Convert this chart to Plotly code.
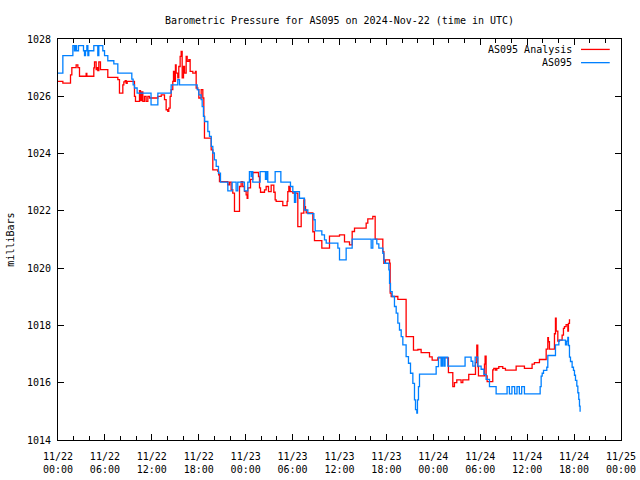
import plotly.graph_objects as go
import pandas as pd

start = pd.Timestamp("2024-11-22 00:00")

# AS095 Analysis (red) : hours since 2024-11-22 00:00 UTC, pressure in mb
analysis_hours = [0, 0.62, 1.6, 1.77, 2.32, 2.54, 2.75, 3.6, 3.69, 4.58, 4.67, 4.88, 5.01, 5.09, 5.22, 5.43,
                  6.37, 7.65, 7.86, 8.29, 8.42, 8.59, 8.72, 8.85, 9.78, 9.91, 10.42, 10.55, 10.72, 10.85,
                  11.06, 11.27, 11.49, 11.7, 12.77, 13.2, 13.62, 13.83, 14.04, 14.17, 14.34, 14.47, 14.68,
                  14.77, 14.9, 15.02, 15.11, 15.32, 15.45, 15.62, 15.75, 15.88, 16.05, 16.18, 16.39, 16.52,
                  16.73, 16.9, 17.24, 17.58, 17.67, 17.88, 18.01, 18.31, 18.52, 18.65, 18.73, 19.59, 19.8,
                  20.44, 20.55, 20.65, 21.72, 21.93, 22.14, 22.35, 22.57, 23.21, 23.42, 23.63, 23.85, 24.06,
                  24.19, 24.28, 24.62, 24.91, 25.64, 25.77, 25.9, 26.41, 26.62, 26.92, 27.26, 27.6, 27.77,
                  27.9, 28.75, 29.3, 29.39, 29.52, 29.69, 30.03, 30.67, 31.1, 31.44, 31.55, 31.65, 31.74,
                  32.59, 32.8, 33.74, 34.72, 36.0, 36.64, 37.28, 37.62, 37.92, 39.41, 39.62, 40.26, 40.56,
                  41.54, 41.67, 41.88, 42.4, 42.48, 42.61, 43.46, 44.52, 45.46, 46.02, 46.44, 47.51, 47.85,
                  48.57, 49.93, 50.49, 50.7, 51.0, 51.55, 51.77, 52.53, 53.39, 53.56, 53.68, 53.77, 54.54,
                  54.62, 54.75, 54.88, 55.6, 55.73, 55.95, 56.12, 56.37, 56.88, 57.22, 58.59, 59.65, 60.63,
                  60.93, 61.57, 62.43, 62.64, 62.72, 62.85, 63.49, 63.62, 63.71, 63.92, 64.13, 64.47, 64.64,
                  64.77, 64.98, 65.2, 65.28, 65.41, 65.5]
analysis_mb = [1026.52, 1026.46, 1026.75, 1027.0, 1027.1, 1027.0, 1026.7, 1026.8, 1026.7, 1026.99, 1027.2,
               1026.93, 1027.0, 1026.9, 1027.2, 1026.93, 1026.66, 1026.58, 1026.11, 1026.4, 1026.5, 1026.55,
               1026.45, 1026.52, 1026.0, 1025.82, 1026.2, 1025.85, 1026.15, 1025.82, 1026.0, 1025.82, 1026.0,
               1025.94, 1026.0, 1026.05, 1025.88, 1025.53, 1025.47, 1025.59, 1026.0, 1026.23, 1026.52,
               1026.87, 1026.52, 1027.1, 1026.81, 1026.64, 1027.04, 1027.39, 1027.57, 1026.64, 1027.04,
               1026.81, 1027.39, 1027.22, 1027.28, 1026.87, 1026.81, 1026.87, 1026.29, 1026.23, 1025.94,
               1026.23, 1025.94, 1025.3, 1024.54, 1024.13, 1023.43, 1023.38, 1023.26, 1023.02, 1022.91,
               1023.0, 1022.74, 1022.62, 1021.98, 1022.85, 1023.02, 1022.85, 1022.68, 1022.56, 1022.44,
               1022.8, 1023.1, 1023.34, 1023.2, 1022.8, 1022.65, 1022.73, 1022.85, 1022.67, 1022.9, 1022.65,
               1022.38, 1022.33, 1022.18, 1022.33, 1022.67, 1022.85, 1022.67, 1022.62, 1021.45, 1021.92,
               1022.38, 1022.15, 1022.03, 1021.93, 1021.27, 1020.96, 1020.7, 1021.12, 1021.16, 1020.92,
               1020.81, 1021.28, 1021.4, 1021.57, 1021.72, 1021.81, 1021.01, 1020.58, 1020.17, 1020.29,
               1020.17, 1019.13, 1019.01, 1018.91, 1017.61, 1017.14, 1017.16, 1017.05, 1016.9, 1016.79,
               1016.87, 1016.35, 1015.86, 1016.0, 1016.1, 1016.0, 1016.1, 1016.29, 1016.7, 1017.31, 1016.56,
               1016.24, 1016.65, 1016.93, 1016.24, 1016.04, 1016.45, 1016.5, 1016.44, 1016.5, 1016.56,
               1016.5, 1016.44, 1016.58, 1016.5, 1016.65, 1016.7, 1016.81, 1017.17, 1017.57, 1017.43,
               1017.17, 1017.71, 1018.25, 1017.8, 1017.45, 1017.49, 1017.66, 1017.9, 1017.96, 1018.03,
               1017.8, 1018.07, 1018.19, 1018.19]

# AS095 observations (blue)
obs_hours = [0, 0.62, 1.9, 2.1, 2.24, 2.37, 2.62, 3.26, 3.39, 3.52, 3.69, 3.82, 3.94, 4.58, 5.09, 5.22,
             5.73, 5.95, 6.37, 7.14, 7.65, 9.44, 9.61, 9.78, 10.12, 11.9, 12.77, 14.47, 15.32, 15.54, 17.8,
             18.0, 18.3, 18.44, 18.6, 18.75, 19.16, 19.37, 19.6, 19.8, 20.0, 20.23, 20.52, 20.78, 21.72,
             22.27, 22.78, 22.99, 23.84, 24.27, 24.48, 24.7, 24.8, 24.91, 25.85, 26.53, 26.7, 26.83, 27.77,
             28.5, 29.73, 30.03, 30.24, 30.4, 30.88, 31.52, 31.95, 32.72, 32.89, 33.74, 34.08, 34.3, 35.79,
             36.0, 36.85, 37.62, 40.05, 40.26, 40.77, 41.03, 41.54, 41.67, 41.76, 42.31, 42.4, 42.52, 42.74,
             43.03, 43.25, 43.46, 43.67, 43.89, 44.1, 44.52, 44.82, 45.08, 45.38, 45.59, 45.72, 45.89,
             45.97, 46.1, 46.23, 48.36, 48.66, 48.99, 49.15, 49.34, 49.5, 49.85, 52.06, 52.83, 53.05, 53.35,
             53.69, 54.11, 54.46, 54.75, 55.18, 56.03, 57.43, 57.73, 58.05, 58.4, 58.7, 59.0, 59.3,
             59.65, 61.66, 61.79, 61.92, 62.09, 62.51, 62.64, 63.62, 64.05, 64.9,
             65.07, 65.2, 65.28, 65.41, 65.54, 65.75, 65.92, 66.05, 66.18, 66.35, 66.48, 66.6, 66.69, 66.77]
obs_mb = [1026.81, 1027.42, 1027.77, 1027.59, 1027.77, 1027.59, 1027.77, 1027.59, 1027.42, 1027.59,
          1027.77, 1027.42, 1027.59, 1027.77, 1027.42, 1027.77, 1027.59, 1027.42, 1027.24, 1027.13,
          1026.81, 1026.6, 1026.4, 1026.29, 1026.11, 1025.7, 1026.11, 1026.4, 1026.58, 1026.4, 1026.23,
          1026.05, 1025.88, 1025.64, 1025.3, 1025.12, 1024.77, 1024.6, 1024.25, 1024.02, 1023.78,
          1023.55, 1023.32, 1023.0, 1022.7, 1023.0, 1022.7, 1023.0, 1022.7, 1023.0, 1023.37, 1023.2,
          1023.37, 1023.0, 1023.37, 1023.1, 1023.37, 1023.0, 1023.37, 1023.0, 1022.85, 1022.67, 1022.3,
          1022.67, 1022.44, 1022.03, 1021.9, 1021.69, 1021.3, 1021.16, 1020.99, 1020.87, 1020.7, 1020.29,
          1020.7, 1021.01, 1020.7, 1021.01, 1020.85, 1020.7, 1020.52, 1020.29, 1020.17, 1019.94, 1019.47,
          1019.18, 1019.01, 1018.66, 1018.43, 1018.08, 1017.84, 1017.61, 1017.32, 1016.91, 1016.68,
          1016.33, 1015.98, 1015.4, 1015.06, 1014.94, 1015.4, 1015.86, 1016.3, 1016.56, 1016.89, 1016.58,
          1016.89, 1016.58, 1016.89, 1016.58, 1016.89, 1016.75, 1016.58, 1016.89, 1016.58, 1016.47,
          1016.29, 1016.12, 1015.86, 1015.61, 1015.86, 1015.61, 1015.86, 1015.61, 1015.86, 1015.61,
          1015.86, 1015.61, 1015.86, 1016.23, 1016.33, 1016.43, 1016.54, 1016.95,
          1017.32, 1017.49, 1017.32, 1017.45, 1017.58, 1017.3, 1016.89, 1016.74, 1016.54, 1016.43,
          1016.26, 1016.08, 1015.88, 1015.65, 1015.42, 1015.18, 1014.99, 1014.87]

tick_labels = ["11/22<br>00:00", "11/22<br>06:00", "11/22<br>12:00", "11/22<br>18:00",
               "11/23<br>00:00", "11/23<br>06:00", "11/23<br>12:00", "11/23<br>18:00",
               "11/24<br>00:00", "11/24<br>06:00", "11/24<br>12:00", "11/24<br>18:00",
               "11/25<br>00:00"]
y_ticks = [1014, 1016, 1018, 1020, 1022, 1024, 1026, 1028]

series_names = ["AS095 Analysis", "AS095"]
series_colors = ["#ff0000", "#0080ff"]

FONT = "DejaVu Sans Mono"

ax = start + pd.to_timedelta(analysis_hours, unit="h")
ox = start + pd.to_timedelta(obs_hours, unit="h")
tickvals = pd.date_range(start, periods=len(tick_labels), freq="6h")

fig = go.Figure()
fig.add_trace(go.Scatter(x=ax, y=analysis_mb, mode="lines", line_shape="hv",
                         line=dict(color=series_colors[0], width=1.3), name=series_names[0],
                         showlegend=False))
fig.add_trace(go.Scatter(x=ox, y=obs_mb, mode="lines", line_shape="hv",
                         line=dict(color=series_colors[1], width=1.3), name=series_names[1],
                         showlegend=False))

# gnuplot-style key: text then line sample, top right
key_y = [0.974, 0.941]
for name, color, yy in zip(series_names, series_colors, key_y):
    fig.add_annotation(x=0.916, y=yy, xref="paper", yref="paper", text=name, showarrow=False,
                       xanchor="right", yanchor="middle", font=dict(family=FONT, size=10, color="black"))
    fig.add_shape(type="line", xref="paper", yref="paper", x0=0.929, x1=0.98, y0=yy, y1=yy,
                  line=dict(color=color, width=1.3))

fig.add_annotation(x=-0.085, y=0.5, xref="paper", yref="paper", text="milliBars", textangle=-90,
                   showarrow=False, xanchor="center", yanchor="middle",
                   font=dict(family=FONT, size=10, color="black"))

fig.update_layout(
    width=640, height=480,
    margin=dict(l=58, r=19, t=39, b=40, autoexpand=False),
    paper_bgcolor="white", plot_bgcolor="white",
    font=dict(family=FONT, size=10, color="black"),
    title=dict(text="Barometric Pressure for AS095 on 2024-Nov-22 (time in UTC)",
               x=0.5, xref="paper", xanchor="center", y=1 - 20 / 480, yref="container",
               yanchor="middle", font=dict(family=FONT, size=10, color="black")),
    showlegend=False,
)
fig.update_xaxes(range=[start, start + pd.Timedelta(hours=72)], tickvals=tickvals, ticktext=tick_labels,
                 ticks="inside", ticklen=6, tickwidth=1, tickcolor="black",
                 minor=dict(dtick=2 * 3600 * 1000, ticks="inside", ticklen=4, tickcolor="black", tickwidth=1),
                 showline=True, linecolor="black", linewidth=1, mirror="allticks",
                 showgrid=False, zeroline=False, ticklabelstandoff=7, automargin=False)
fig.update_yaxes(range=[1014, 1028], tickvals=y_ticks, ticks="inside", ticklen=6, tickwidth=1,
                 tickcolor="black", showline=True, linecolor="black", linewidth=1, mirror="allticks",
                 showgrid=False, zeroline=False, ticklabelstandoff=4, automargin=False)

fig.write_html("out.html")
